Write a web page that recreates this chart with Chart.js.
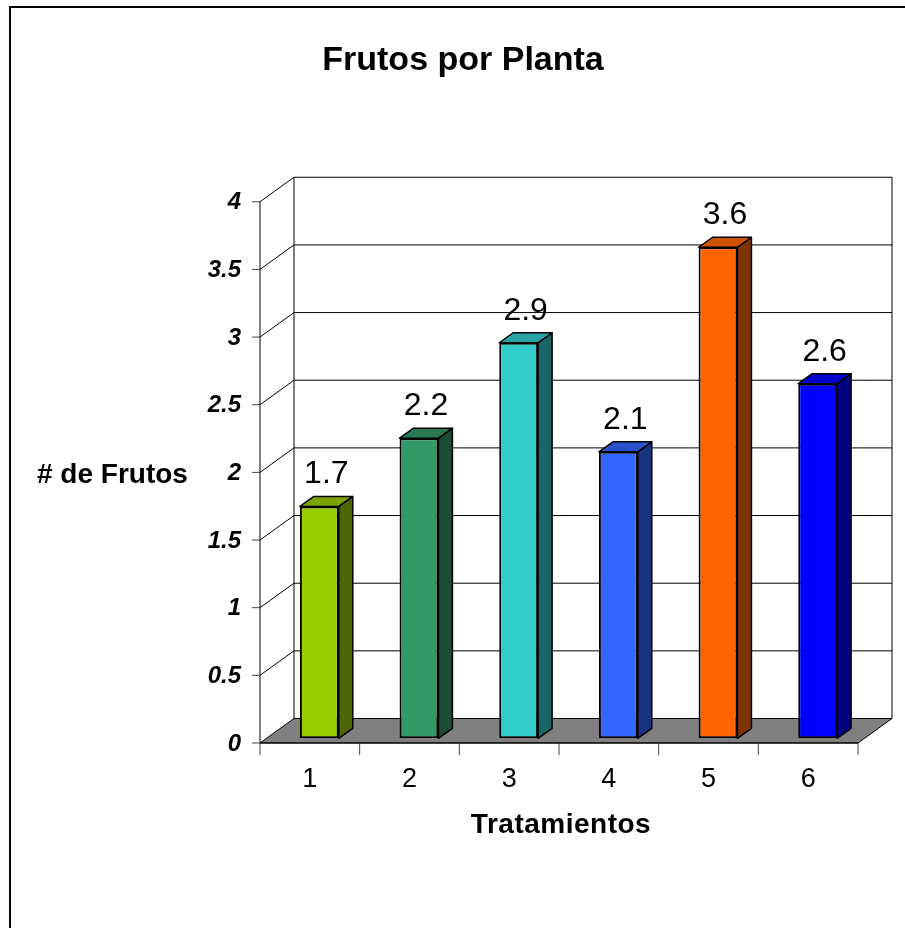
<!DOCTYPE html>
<html>
<head>
<meta charset="utf-8">
<script src="https://cdn.jsdelivr.net/npm/chart.js@4.4.1/dist/chart.umd.min.js"></script>
<style>
html,body{margin:0;padding:0;background:#fff;}
canvas{display:block;}
</style>
</head>
<body>
<canvas id="c" width="905" height="928"></canvas>
<script>
const chartTitle = 'Frutos por Planta';
const yTitle = '# de Frutos';
const xTitle = 'Tratamientos';
const categories = ['1', '2', '3', '4', '5', '6'];
const values = [1.7, 2.2, 2.9, 2.1, 3.6, 2.6];
const frontColors = ['#99CC00', '#339966', '#33CCCC', '#3366FF', '#FF6600', '#0000FF'];
const topColors = ['#7AA300', '#297A52', '#29A3A3', '#2952CC', '#CC5200', '#0000CC'];
const sideColors = ['#4D6600', '#1A4D33', '#1A6666', '#1A3380', '#803300', '#000080'];
const yTicks = [0, 0.5, 1, 1.5, 2, 2.5, 3, 3.5, 4];
const yTickLabels = ['0', '0.5', '1', '1.5', '2', '2.5', '3', '3.5', '4'];

const FONT = '"Liberation Sans", Arial, sans-serif';
// 3D geometry offsets (relative to the plane of the bar front faces); k = wall scale vs bar scale
const G = { fdx: -9.5, fdy: 4.7, bdx: 24.5, bdy: -19.8, dx: 14, dy: -10, k: 0.992 };

const scene3d = {
  id: 'scene3d',
  beforeDraw(chart) {
    const ctx = chart.ctx;
    ctx.save();
    ctx.fillStyle = '#fff';
    ctx.fillRect(0, 0, chart.width, chart.height);
    ctx.strokeStyle = '#000';
    ctx.lineWidth = 2;
    ctx.beginPath();
    ctx.moveTo(10, 940);
    ctx.lineTo(10, 7);
    ctx.lineTo(920, 7);
    ctx.stroke();
    ctx.restore();
  },
  beforeDatasetsDraw(chart) {
    const ctx = chart.ctx;
    const xs = chart.scales.x, ys = chart.scales.y;
    const fl = xs.left + G.fdx, fr = xs.right + G.fdx;
    const bl = xs.left + G.bdx, br = xs.right + G.bdx;
    const wall = v => ys.bottom + (ys.getPixelForValue(v) - ys.bottom) * G.k;
    const yF = v => wall(v) + G.fdy;
    const yB = v => wall(v) + G.bdy;
    const vMin = yTicks[0], vMax = yTicks[yTicks.length - 1];
    ctx.save();
    ctx.lineWidth = 1;
    ctx.strokeStyle = '#000';
    ctx.lineJoin = 'miter';
    ctx.fillStyle = '#fff';
    ctx.fillRect(bl, yB(vMax), br - bl, yB(vMin) - yB(vMax));
    ctx.beginPath();
    ctx.moveTo(fl, yF(vMax)); ctx.lineTo(bl, yB(vMax)); ctx.lineTo(bl, yB(vMin)); ctx.lineTo(fl, yF(vMin)); ctx.closePath();
    ctx.fill();
    ctx.beginPath();
    yTicks.forEach(v => {
      if (v === vMin) return;
      ctx.moveTo(fl, yF(v)); ctx.lineTo(bl, yB(v)); ctx.lineTo(br, yB(v));
    });
    ctx.stroke();
    ctx.beginPath();
    ctx.moveTo(bl, yB(vMin)); ctx.lineTo(bl, yB(vMax));
    ctx.moveTo(br, yB(vMax)); ctx.lineTo(br, yB(vMin));
    ctx.stroke();
    ctx.fillStyle = '#808080';
    ctx.beginPath();
    ctx.moveTo(fl, yF(vMin)); ctx.lineTo(fr, yF(vMin)); ctx.lineTo(br, yB(vMin)); ctx.lineTo(bl, yB(vMin)); ctx.closePath();
    ctx.fill();
    ctx.stroke();
    ctx.beginPath();
    ctx.moveTo(fl, yF(vMax)); ctx.lineTo(fl, yF(vMin));
    ctx.stroke();
    ctx.strokeStyle = '#444';
    ctx.beginPath();
    yTicks.forEach(v => { ctx.moveTo(fl - 8, yF(v)); ctx.lineTo(fl, yF(v)); });
    const cw = (fr - fl) / categories.length;
    for (let k = 0; k <= categories.length; k++) {
      ctx.moveTo(fl + k * cw, yF(vMin)); ctx.lineTo(fl + k * cw, yF(vMin) + 12);
    }
    ctx.stroke();
    ctx.strokeStyle = '#000';
    ctx.beginPath();
    ctx.moveTo(fl, yF(vMin)); ctx.lineTo(fr, yF(vMin));
    ctx.stroke();

    ctx.fillStyle = '#000';
    ctx.font = 'italic bold 24px ' + FONT;
    ctx.textAlign = 'right';
    ctx.textBaseline = 'middle';
    yTicks.forEach((v, i) => ctx.fillText(yTickLabels[i], 241, yF(v) + 1));
    ctx.font = '27px ' + FONT;
    ctx.textAlign = 'center';
    ctx.textBaseline = 'alphabetic';
    categories.forEach((c, i) => ctx.fillText(c, xs.getPixelForValue(i) + G.fdx, 787));
    ctx.font = 'bold 34px ' + FONT;
    ctx.fillText(chartTitle, 463, 70);
    ctx.font = 'bold 28px ' + FONT;
    ctx.letterSpacing = '0.5px';
    ctx.fillText(xTitle, 561, 833);
    ctx.letterSpacing = '0px';
    ctx.textAlign = 'left';
    ctx.fillText(yTitle, 37, 483);
    ctx.restore();
  },
  afterDatasetsDraw(chart) {
    const ctx = chart.ctx;
    const meta = chart.getDatasetMeta(0);
    ctx.save();
    ctx.lineWidth = 1.5;
    ctx.strokeStyle = '#000';
    ctx.lineJoin = 'round';
    meta.data.forEach((bar, i) => {
      const p = bar.getProps(['x', 'y', 'base', 'width'], true);
      const l = p.x - p.width / 2, r = p.x + p.width / 2;
      ctx.fillStyle = sideColors[i];
      ctx.beginPath();
      ctx.moveTo(r, p.y); ctx.lineTo(r + G.dx, p.y + G.dy); ctx.lineTo(r + G.dx, p.base + G.dy); ctx.lineTo(r, p.base); ctx.closePath();
      ctx.fill(); ctx.stroke();
      ctx.fillStyle = topColors[i];
      ctx.beginPath();
      ctx.moveTo(l, p.y); ctx.lineTo(l + G.dx, p.y + G.dy); ctx.lineTo(r + G.dx, p.y + G.dy); ctx.lineTo(r, p.y); ctx.closePath();
      ctx.fill(); ctx.stroke();
      ctx.fillStyle = '#000';
      ctx.font = '32px ' + FONT;
      ctx.textAlign = 'center';
      ctx.textBaseline = 'alphabetic';
      ctx.fillText(values[i].toFixed(1), p.x + G.dx / 2, p.y + G.dy - 13);
    });
    ctx.restore();
  }
};

new Chart(document.getElementById('c'), {
  type: 'bar',
  data: {
    labels: categories,
    datasets: [{
      data: values,
      backgroundColor: frontColors,
      borderColor: '#000',
      borderWidth: 2,
      borderSkipped: false,
      categoryPercentage: 1,
      barPercentage: 0.39
    }]
  },
  options: {
    responsive: false,
    animation: false,
    layout: { padding: { left: 269.5, right: 37.5, top: 192.7, bottom: 189.7 } },
    scales: {
      x: { display: false, offset: true },
      y: { display: false, min: yTicks[0], max: yTicks[yTicks.length - 1] }
    },
    plugins: { legend: { display: false }, tooltip: { enabled: false }, title: { display: false } }
  },
  plugins: [scene3d]
});
</script>
</body>
</html>
